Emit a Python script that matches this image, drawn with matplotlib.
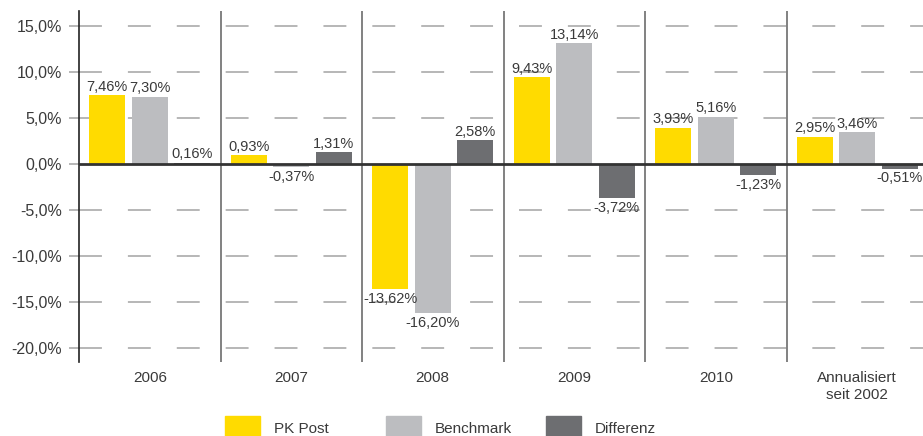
import matplotlib.pyplot as plt
import numpy as np
from matplotlib.patches import Rectangle

plt.rcParams['font.family'] = ['Liberation Sans', 'DejaVu Sans']

categories = ["2006", "2007", "2008", "2009", "2010", "Annualisiert\nseit 2002"]
pk_post = [7.46, 0.93, -13.62, 9.43, 3.93, 2.95]
benchmark = [7.30, -0.37, -16.20, 13.14, 5.16, 3.46]
differenz = [0.16, 1.31, 2.58, -3.72, -1.23, -0.51]
series_names = ["PK Post", "Benchmark", "Differenz"]
yticks = [15, 10, 5, 0, -5, -10, -15, -20]

colors = ["#FFDB00", "#BCBDC0", "#6D6E71"]
text_col = "#3a3a3a"

W, H = 923, 436
fig = plt.figure(figsize=(W / 100, H / 100), dpi=100)
ax = fig.add_axes([79 / W, (H - 362) / H, (923 - 79) / W, (362 - 11) / H])

ax.set_ylim(-21.52, 16.63)
ax.set_xlim(0, (923 - 79) / 141.5)

# dashed grid
for t in yticks:
    if t != 0:
        ax.axhline(t, color="#a3a3a3", lw=1.1, dashes=(15, 17), zorder=1)

x = np.arange(len(categories)) + 0.5
w = 0.255
offs = [-0.3, 0.0, 0.3]
for vals, off, col in zip([pk_post, benchmark, differenz], offs, colors):
    ax.bar(x + off, vals, w, color=col, zorder=2)
    for xi, v in zip(x + off, vals):
        lab = f"{v:.2f}%".replace(".", ",")
        if v >= 0:
            ax.annotate(lab, (xi, v), xytext=(0, 1), textcoords="offset points",
                        ha="center", va="bottom", fontsize=10.5, color=text_col)
        else:
            ax.annotate(lab, (xi, v), xytext=(0, -2), textcoords="offset points",
                        ha="center", va="top", fontsize=10.5, color=text_col)

# zero line
ax.axhline(0, color="#333333", lw=2, zorder=3)

# group separators
for i in range(1, len(categories)):
    ax.axvline(i, color="#777777", lw=1.3, zorder=1)

for s in ["top", "right", "bottom"]:
    ax.spines[s].set_visible(False)
ax.spines["left"].set_color("#222222")
ax.spines["left"].set_linewidth(1.2)

ax.set_yticks(yticks)
ax.set_yticklabels([f"{t:.1f}%".replace(".", ",") for t in yticks],
                   fontsize=11.5, color=text_col)
ax.tick_params(axis="y", length=7, width=1.1, color="#a3a3a3", pad=5)
ax.set_xticks([])

for xi, c in zip(x, categories):
    ax.text(xi, -22.5, c, ha="center", va="top", fontsize=11,
            color=text_col, linespacing=1.3)

# legend
for i, (name, col) in enumerate(zip(series_names, colors)):
    x0 = 225 + i * 160.5
    fig.patches.append(Rectangle((x0 / W, 0), 35 / W, 20 / H,
                                 transform=fig.transFigure, color=col))
    fig.text((x0 + 49) / W, 7 / H, name, ha="left", va="center",
             fontsize=11, color=text_col)

fig.savefig("out.png", dpi=100)
